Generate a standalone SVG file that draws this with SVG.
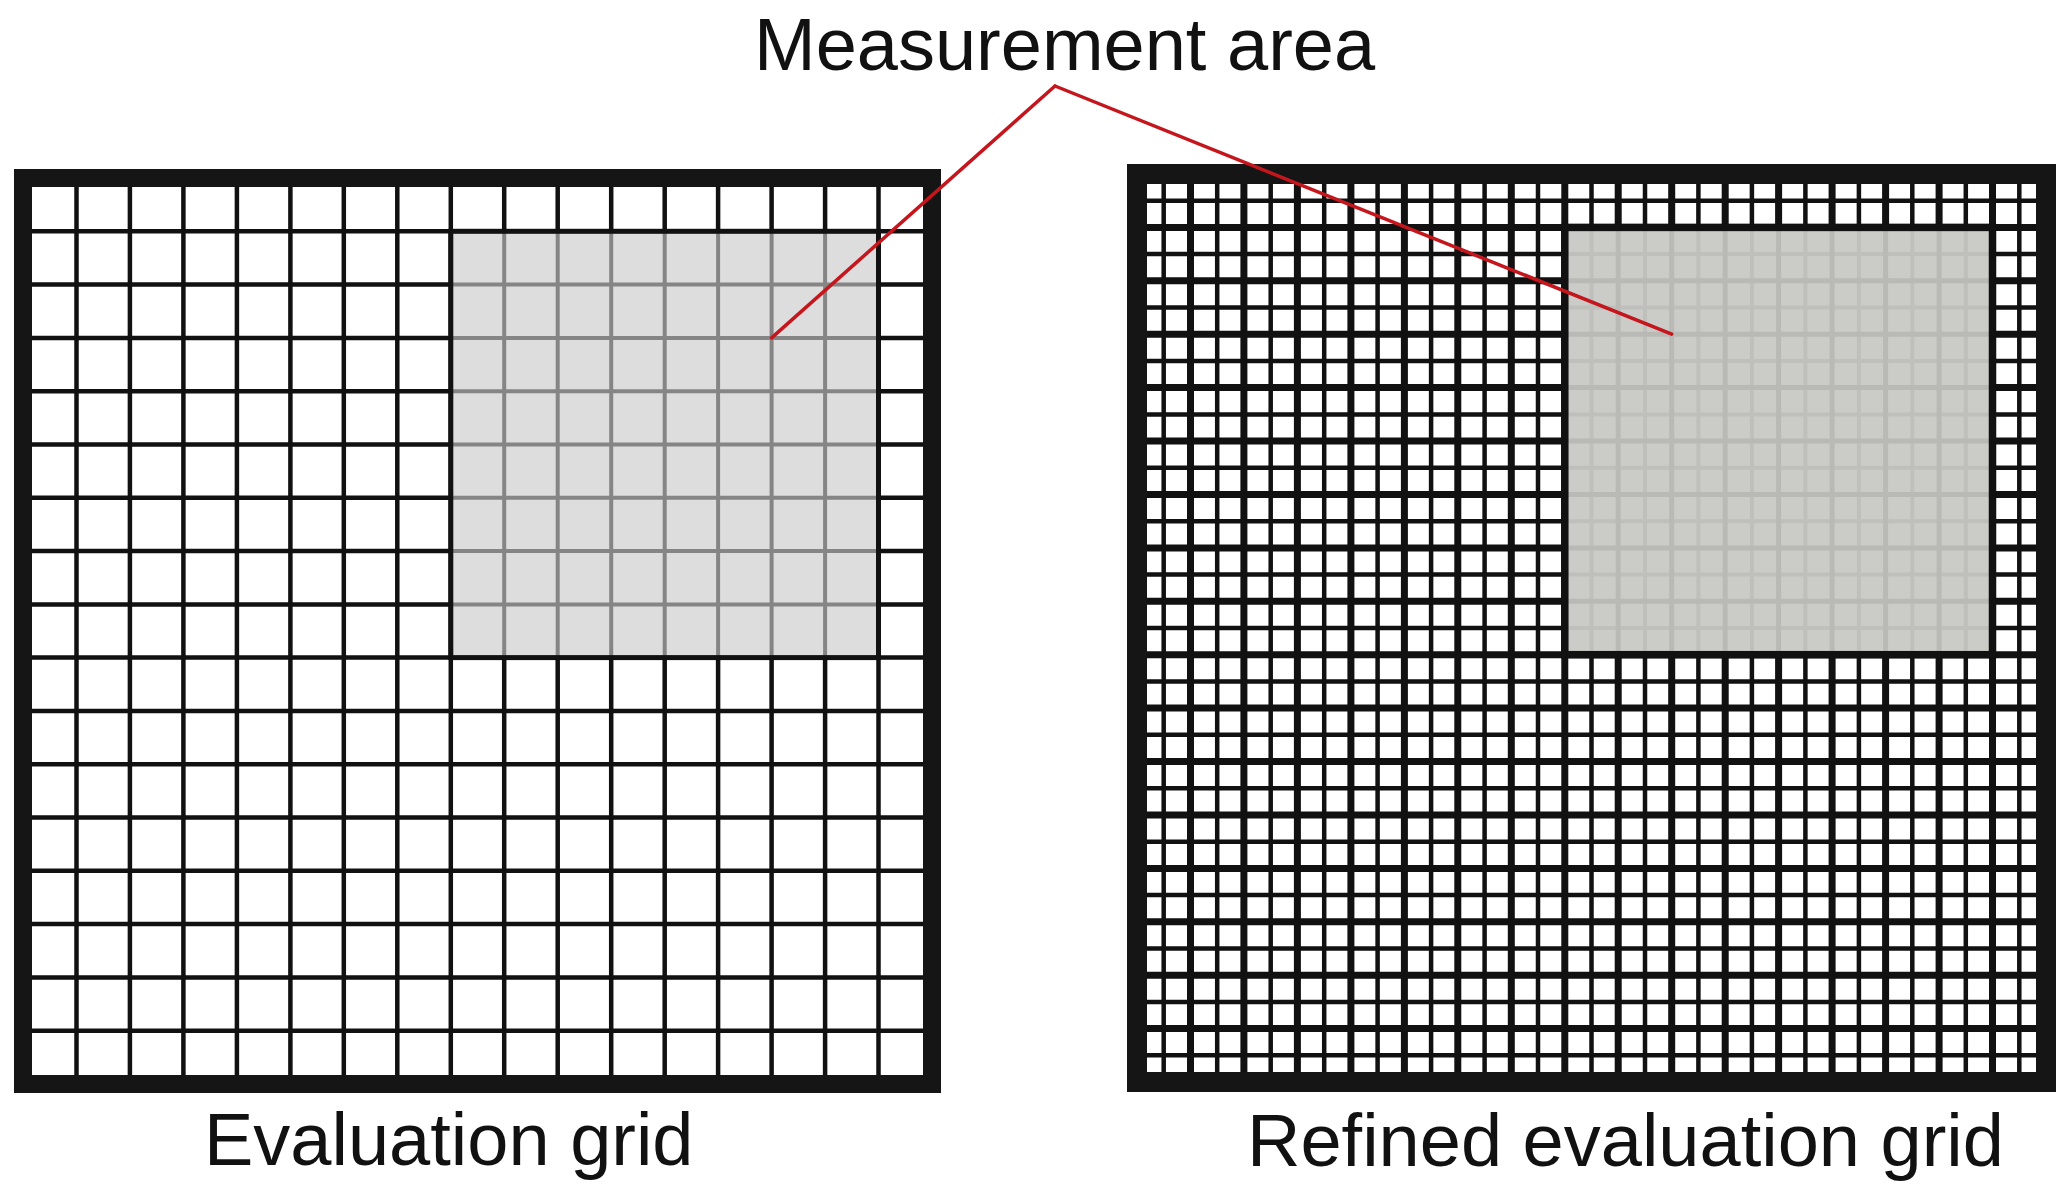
<svg xmlns="http://www.w3.org/2000/svg" width="2068" height="1197" viewBox="0 0 2068 1197">
<style>
  .frameL { fill: none; stroke: #151515; stroke-width: 18; }
  .frameR { fill: none; stroke: #151515; stroke-width: 20; }
  .gl { fill: none; stroke: #111; stroke-width: 4.5; }
  .thick { fill: none; stroke: #111; stroke-width: 7; }
  .thin { fill: none; stroke: #111; stroke-width: 4.5; }
  .areaL { fill: #dddddd; stroke: none; }
  .areaLlines { fill: none; stroke: #858585; stroke-width: 4; }
  .areaR { fill: #cbcbc8; stroke: none; }
  .areaRthick { fill: none; stroke: #b9b9b5; stroke-width: 5; }
  .areaRthin { fill: none; stroke: #bfbfbb; stroke-width: 4; }
  .areaBorderL { fill: none; stroke: #111; stroke-width: 5; }
  .areaBorderR { fill: none; stroke: #111; stroke-width: 7.5; }
  .label { font-family: "Liberation Sans", Arial, sans-serif; font-size: 74px; fill: #111; }
  .conn { stroke: #c4161c; stroke-width: 3.5; fill: none; stroke-linecap: round; }
</style>
<rect x="0" y="0" width="2068" height="1197" fill="#ffffff"/>

<g id="evaluation-grid">
  <path class="gl" d="M76.5 178V1084 M129.9 178V1084 M183.4 178V1084 M236.9 178V1084 M290.4 178V1084 M343.8 178V1084 M397.3 178V1084 M450.8 178V1084 M504.2 178V1084 M557.7 178V1084 M611.2 178V1084 M664.7 178V1084 M718.1 178V1084 M771.6 178V1084 M825.1 178V1084 M878.5 178V1084"/>
  <path class="gl" d="M23 231.3H932 M23 284.6H932 M23 337.9H932 M23 391.2H932 M23 444.5H932 M23 497.8H932 M23 551.1H932 M23 604.4H932 M23 657.6H932 M23 710.9H932 M23 764.2H932 M23 817.5H932 M23 870.8H932 M23 924.1H932 M23 977.4H932 M23 1030.7H932"/>
  <g id="measurement-area-left">
    <rect class="areaL" x="450.8" y="231.3" width="427.7" height="426.3"/>
    <path class="areaLlines" d="M504.2 231.3V657.6 M557.7 231.3V657.6 M611.2 231.3V657.6 M664.7 231.3V657.6 M718.1 231.3V657.6 M771.6 231.3V657.6 M825.1 231.3V657.6 M450.8 284.6H878.5 M450.8 337.9H878.5 M450.8 391.2H878.5 M450.8 444.5H878.5 M450.8 497.8H878.5 M450.8 551.1H878.5 M450.8 604.4H878.5"/>
    <rect class="areaBorderL" x="450.8" y="231.3" width="427.7" height="426.3"/>
  </g>
  <rect class="frameL" x="23" y="178" width="909" height="906"/>
</g>

<g id="refined-evaluation-grid">
  <path class="thin" d="M1163.7 174V1082 M1217.2 174V1082 M1270.7 174V1082 M1324.2 174V1082 M1377.6 174V1082 M1431.1 174V1082 M1484.6 174V1082 M1538 174V1082 M1591.5 174V1082 M1645 174V1082 M1698.4 174V1082 M1751.9 174V1082 M1805.4 174V1082 M1858.9 174V1082 M1912.3 174V1082 M1965.8 174V1082 M2019.3 174V1082"/>
  <path class="thin" d="M1137 200.7H2046 M1137 254.1H2046 M1137 307.5H2046 M1137 360.9H2046 M1137 414.4H2046 M1137 467.8H2046 M1137 521.2H2046 M1137 574.6H2046 M1137 628H2046 M1137 681.4H2046 M1137 734.8H2046 M1137 788.2H2046 M1137 841.7H2046 M1137 895.1H2046 M1137 948.5H2046 M1137 1001.9H2046 M1137 1055.3H2046"/>
  <path class="thick" d="M1190.5 174V1082 M1243.9 174V1082 M1297.4 174V1082 M1350.9 174V1082 M1404.4 174V1082 M1457.8 174V1082 M1511.3 174V1082 M1564.8 174V1082 M1618.2 174V1082 M1671.7 174V1082 M1725.2 174V1082 M1778.6 174V1082 M1832.1 174V1082 M1885.6 174V1082 M1939.1 174V1082 M1992.5 174V1082"/>
  <path class="thick" d="M1137 227.4H2046 M1137 280.8H2046 M1137 334.2H2046 M1137 387.6H2046 M1137 441.1H2046 M1137 494.5H2046 M1137 547.9H2046 M1137 601.3H2046 M1137 654.7H2046 M1137 708.1H2046 M1137 761.5H2046 M1137 814.9H2046 M1137 868.4H2046 M1137 921.8H2046 M1137 975.2H2046 M1137 1028.6H2046"/>
  <g id="measurement-area-right">
    <rect class="areaR" x="1564.8" y="227.4" width="427.7" height="427.3"/>
    <path class="areaRthin" d="M1591.5 227.4V654.7 M1645 227.4V654.7 M1698.4 227.4V654.7 M1751.9 227.4V654.7 M1805.4 227.4V654.7 M1858.9 227.4V654.7 M1912.3 227.4V654.7 M1965.8 227.4V654.7 M1564.8 254.1H1992.5 M1564.8 307.5H1992.5 M1564.8 360.9H1992.5 M1564.8 414.4H1992.5 M1564.8 467.8H1992.5 M1564.8 521.2H1992.5 M1564.8 574.6H1992.5 M1564.8 628H1992.5"/>
    <path class="areaRthick" d="M1618.2 227.4V654.7 M1671.7 227.4V654.7 M1725.2 227.4V654.7 M1778.6 227.4V654.7 M1832.1 227.4V654.7 M1885.6 227.4V654.7 M1939.1 227.4V654.7 M1564.8 280.8H1992.5 M1564.8 334.2H1992.5 M1564.8 387.6H1992.5 M1564.8 441.1H1992.5 M1564.8 494.5H1992.5 M1564.8 547.9H1992.5 M1564.8 601.3H1992.5"/>
    <rect class="areaBorderR" x="1564.8" y="227.4" width="427.7" height="427.3"/>
  </g>
  <rect class="frameR" x="1137" y="174" width="909" height="908"/>
</g>

<g id="label-measurement-area">
  <text class="label" x="754" y="70">Measurement area</text>
</g>
<g id="label-evaluation-grid">
  <text class="label" x="204" y="1165">Evaluation grid</text>
</g>
<g id="label-refined-evaluation-grid">
  <text class="label" x="1247" y="1166">Refined evaluation grid</text>
</g>

<g id="connectors">
  <line class="conn" x1="1055" y1="86" x2="771.6" y2="337.9"/>
  <line class="conn" x1="1055" y1="86" x2="1671.7" y2="334.2"/>
</g>
</svg>
